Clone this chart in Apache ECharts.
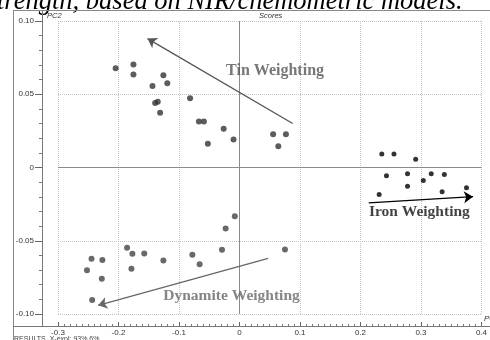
<!DOCTYPE html>
<html><head><meta charset="utf-8">
<script src="https://cdn.jsdelivr.net/npm/echarts@6/dist/echarts.min.js"></script>
<style>html,body{margin:0;padding:0;background:#fff;overflow:hidden}#c{width:490px;height:340px}</style>
</head><body><div id="c"></div>
<script>
// Scores (PC1, PC2)
const tinScores = [
  [-0.2047,0.0677],[-0.1753,0.0703],[-0.1753,0.0634],[-0.1438,0.0557],[-0.1258,0.0630],
  [-0.1193,0.0575],[-0.1394,0.0441],[-0.1351,0.0448],[-0.1312,0.0373],[-0.0817,0.0473],
  [-0.0670,0.0314],[-0.0588,0.0314],[-0.0261,0.0264],[-0.0098,0.0191],[-0.0523,0.0162],
  [0.0556,0.0227],[0.0768,0.0227],[0.0642,0.0145]
];
const ironScores = [
  [0.2353,0.0093],[0.2554,0.0093],[0.2913,0.0057],[0.2430,-0.0057],[0.2778,-0.0043],
  [0.3039,-0.0089],[0.3170,-0.0043],[0.3387,-0.0048],[0.2778,-0.0128],[0.2309,-0.0184],
  [0.3350,-0.0166],[0.3753,-0.0138]
];
const dynamiteScores = [
  [-0.0077,-0.0332],[-0.0229,-0.0416],[-0.0289,-0.0561],[-0.0779,-0.0596],[-0.0659,-0.0660],
  [-0.1258,-0.0634],[-0.1574,-0.0587],[-0.1770,-0.0589],[-0.1858,-0.0548],[-0.1786,-0.0691],
  [-0.2446,-0.0623],[-0.2266,-0.0632],[-0.2521,-0.0701],[-0.2276,-0.0759],[-0.2435,-0.0905],
  [0.0752,-0.0559]
];
// Weighting arrows: [start, end] in score units
const tinArrow = [[0.088,0.030],[-0.152,0.088]];
const ironArrow = [[0.2136,-0.0241],[0.386,-0.0199]];
const dynamiteArrow = [[0.0474,-0.0621],[-0.2337,-0.0941]];
const groupNames = ['Tin Weighting','Iron Weighting','Dynamite Weighting'];
const groupLabelAt = [[0.0588,0.0661],[0.2974,-0.0305],[-0.0131,-0.0878]];
const xTicks = [-0.3,-0.2,-0.1,0,0.1,0.2,0.3,0.4];
const yTicks = [-0.10,-0.05,0,0.05,0.10];

const chart = echarts.init(document.getElementById('c'), null, {renderer:'canvas'});
const fmtY = v => Math.abs(v) < 1e-9 ? '0' : v.toFixed(2);
const fmtX = v => Math.abs(v) < 1e-9 ? '0' : v.toFixed(1);
const arrowLine = (a, color) => ({
  type:'scatter', data:[], silent:true, z:3,
  markLine:{silent:true, animation:false, symbol:['none','arrow'], symbolSize:9,
    label:{show:false}, lineStyle:{color:color, width:1.3, type:'solid'},
    itemStyle:{color:color},
    data:[[{coord:a[0], symbol:'none'},{coord:a[1], symbol:'arrow', symbolSize:9}]]}
});
const labelColors = ['#555','#111','#666'];
const labelSizes = [16,15.5,15.5];

chart.setOption({
  animation:false,
  backgroundColor:'#fff',
  grid:{left:58, right:4, top:21, bottom:26, containLabel:false},
  xAxis:{type:'value', min:xTicks[0], max:xTicks[xTicks.length-1], interval:0.1, offset:12,
    axisLine:{show:true, onZero:false, lineStyle:{color:'#777', width:1}},
    axisTick:{show:true, inside:true, length:4, lineStyle:{color:'#666'}},
    minorTick:{show:true, splitNumber:10, length:2, lineStyle:{color:'#777'}},
    axisLabel:{margin:3, fontSize:8, color:'#333', fontFamily:'Liberation Sans', formatter:fmtX},
    splitLine:{show:true, lineStyle:{color:'#c4c4c4', type:'dotted', width:1}}},
  yAxis:{type:'value', min:yTicks[0], max:yTicks[yTicks.length-1], interval:0.05, offset:16,
    axisLine:{show:true, onZero:false, lineStyle:{color:'#777', width:1}},
    axisTick:{show:true, inside:false, length:7, lineStyle:{color:'#666'}},
    minorTick:{show:true, splitNumber:5, length:3, lineStyle:{color:'#777'}},
    axisLabel:{margin:8, fontSize:8, color:'#333', fontFamily:'Liberation Sans', formatter:fmtY},
    splitLine:{show:true, lineStyle:{color:'#c4c4c4', type:'dotted', width:1}}},
  graphic:[
    {type:'text', left:-3, top:-11, silent:true,
      style:{text:'trength, based on NIR/chemometric models.', font:'italic 26.5px "Liberation Serif"', fill:'#000'}},
    {type:'line', silent:true, shape:{x1:13,y1:10.5,x2:490,y2:10.5}, style:{stroke:'#888',lineWidth:1}},
    {type:'line', silent:true, shape:{x1:13.5,y1:10,x2:13.5,y2:340}, style:{stroke:'#888',lineWidth:1}},
    {type:'line', silent:true, shape:{x1:42.5,y1:10,x2:42.5,y2:326}, style:{stroke:'#777',lineWidth:1}},
    {type:'line', silent:true, shape:{x1:13,y1:326.5,x2:490,y2:326.5}, style:{stroke:'#777',lineWidth:1}},
    {type:'text', left:47, top:12, silent:true, style:{text:'PC2', font:'italic 7.5px "Liberation Sans"', fill:'#333'}},
    {type:'text', left:259, top:12, silent:true, style:{text:'Scores', font:'italic 7.5px "Liberation Sans"', fill:'#333'}},
    {type:'text', left:484, top:315, silent:true, style:{text:'PC1', font:'italic 8px "Liberation Sans"', fill:'#333'}},
    {type:'text', left:14, top:336, silent:true, style:{text:'RESULTS, X-expl: 93%,6%', font:'7px "Liberation Sans"', fill:'#444'}}
  ],
  series:[
    {type:'scatter', data:[], silent:true, z:1,
      markLine:{silent:true, animation:false, symbol:'none', label:{show:false},
        lineStyle:{color:'#8a8a8a', width:1, type:'solid'}, data:[{xAxis:0},{yAxis:0}]}},
    arrowLine(tinArrow, '#555'),
    arrowLine(ironArrow, '#000'),
    arrowLine(dynamiteArrow, '#666'),
    {name:'Tin', type:'scatter', data:tinScores, symbolSize:6, itemStyle:{color:'#333'}, z:4},
    {name:'Iron', type:'scatter', data:ironScores, symbolSize:5, itemStyle:{color:'#000'}, z:4},
    {name:'Dynamite', type:'scatter', data:dynamiteScores, symbolSize:6, itemStyle:{color:'#444'}, z:4},
    {type:'scatter', symbolSize:0, silent:true, z:5,
      data:groupNames.map((n,i)=>({name:n, value:groupLabelAt[i],
        label:{color:labelColors[i], fontSize:labelSizes[i]}})),
      label:{show:true, position:'inside', formatter:p=>p.name,
        fontFamily:'Liberation Serif', fontWeight:'bold'}}
  ]
});
</script></body></html>
